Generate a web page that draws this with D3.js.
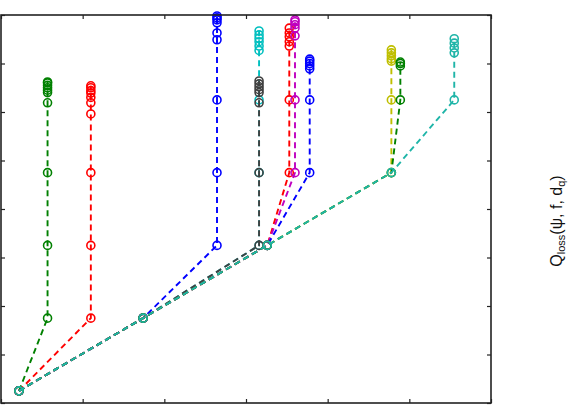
<!DOCTYPE html>
<html>
<head>
<meta charset="utf-8">
<script src="https://cdn.jsdelivr.net/npm/d3@7"></script>
<style>
  body { margin: 0; background: #fff; }
  svg { display: block; }
  .ylab { font-family: "Liberation Sans", Arial, sans-serif; font-size: 16px; fill: #111; }
</style>
</head>
<body>
<svg id="chart" width="573" height="410"></svg>
<script>
// x/y ticks (no labels visible in the reference, only tick marks)
const xTicks = [0, 1, 2, 3, 4, 5, 6];
const yTicks = [0, 1, 2, 3, 4, 5, 6, 7, 8];

// each run is drawn from a common start, one point per iteration
const runNames = ['c', 'k', 'g1', 'r1', 'b1', 'r2', 'm', 'b2', 'y', 'g2', 't'];
const runColors = ['#00bfbf', '#404040', '#008000', '#ff0000', '#0000ff', '#ff0000', '#bf00bf', '#0000ff', '#bfbf00', '#008000', '#1fb5a8'];

const xs_c  = [0.22, 1.74, 3.16, 3.16, 3.16, 3.16, 3.16, 3.16, 3.16, 3.16, 3.16];
const ys_c  = [0.25, 1.75, 3.25, 4.75, 6.25, 7.27, 7.36, 7.45, 7.52, 7.59, 7.67];
const xs_k  = [0.22, 1.74, 3.16, 3.16, 3.16, 3.16, 3.16, 3.16, 3.16, 3.16];
const ys_k  = [0.25, 1.75, 3.25, 4.75, 6.19, 6.40, 6.46, 6.52, 6.58, 6.64];
const xs_g1 = [0.22, 0.57, 0.57, 0.57, 0.57, 0.57, 0.57, 0.57, 0.57, 0.57, 0.57];
const ys_g1 = [0.25, 1.75, 3.25, 4.75, 6.19, 6.40, 6.45, 6.50, 6.55, 6.60, 6.62];
const xs_r1 = [0.22, 1.10, 1.10, 1.10, 1.10, 1.10, 1.10, 1.10, 1.10, 1.10, 1.10];
const ys_r1 = [0.25, 1.75, 3.25, 4.75, 5.96, 6.19, 6.30, 6.39, 6.44, 6.50, 6.54];
const xs_b1 = [0.22, 1.74, 2.645, 2.645, 2.645, 2.645, 2.645, 2.645, 2.645, 2.645, 2.645];
const ys_b1 = [0.25, 1.75, 3.25, 4.75, 6.25, 7.49, 7.63, 7.84, 7.90, 7.94, 7.98];
const xs_r2 = [0.22, 1.74, 3.26, 3.53, 3.53, 3.53, 3.53, 3.53, 3.53, 3.53];
const ys_r2 = [0.25, 1.75, 3.25, 4.75, 6.25, 7.36, 7.45, 7.55, 7.63, 7.73];
const xs_m  = [0.22, 1.74, 3.26, 3.60, 3.60, 3.60, 3.60, 3.60, 3.60, 3.60];
const ys_m  = [0.25, 1.75, 3.25, 4.75, 6.25, 7.57, 7.73, 7.80, 7.86, 7.90];
const xs_b2 = [0.22, 1.74, 3.26, 3.78, 3.78, 3.78, 3.78, 3.78, 3.78, 3.78];
const ys_b2 = [0.25, 1.75, 3.25, 4.75, 6.25, 6.89, 6.95, 7.00, 7.05, 7.09];
const xs_y  = [0.22, 1.74, 3.26, 4.78, 4.78, 4.78, 4.78, 4.78, 4.78, 4.78];
const ys_y  = [0.25, 1.75, 3.25, 4.75, 6.25, 7.05, 7.10, 7.16, 7.22, 7.28];
const xs_g2 = [0.22, 1.74, 3.26, 4.78, 4.89, 4.89, 4.89, 4.89];
const ys_g2 = [0.25, 1.75, 3.25, 4.75, 6.25, 6.95, 7.00, 7.03];
const xs_t  = [0.22, 1.74, 3.26, 4.78, 5.55, 5.55, 5.55, 5.55, 5.55];
const ys_t  = [0.25, 1.75, 3.25, 4.75, 6.25, 7.22, 7.32, 7.42, 7.51];

const runX = [xs_c, xs_k, xs_g1, xs_r1, xs_b1, xs_r2, xs_m, xs_b2, xs_y, xs_g2, xs_t];
const runY = [ys_c, ys_k, ys_g1, ys_r1, ys_b1, ys_r2, ys_m, ys_b2, ys_y, ys_g2, ys_t];

const svg = d3.select('#chart');
const box = { left: 1, right: 491, top: 15, bottom: 403 };

const x = d3.scaleLinear().domain([0, 6]).range([box.left, box.right]);
const y = d3.scaleLinear().domain([0, 8]).range([box.bottom, box.top]);

const runs = runNames.map((name, i) => ({
  name,
  color: runColors[i],
  pts: runX[i].map((v, j) => [v, runY[i][j]]),
}));

const line = d3.line().x(d => x(d[0])).y(d => y(d[1]));

const g = svg.append('g');
runs.forEach((r) => {
  const rg = g.append('g').attr('class', `run-${r.name}`);
  rg.append('path')
    .attr('d', line(r.pts))
    .attr('fill', 'none')
    .attr('stroke', r.color)
    .attr('stroke-width', 1.9)
    .attr('stroke-dasharray', '6,4');
  rg.selectAll('circle')
    .data(r.pts)
    .enter()
    .append('circle')
    .attr('cx', d => x(d[0]))
    .attr('cy', d => y(d[1]))
    .attr('r', 4)
    .attr('fill', 'none')
    .attr('stroke', r.color)
    .attr('stroke-width', 1.6);
});

// frame with inward ticks on all four sides
const tickLen = 4;
const axisStyle = sel => sel.call(s => s.select('.domain').remove())
  .call(s => s.selectAll('line').attr('stroke', '#222').attr('stroke-width', 1.2))
  .call(s => s.selectAll('text').remove());

svg.append('g').attr('transform', `translate(0,${box.bottom})`)
  .call(d3.axisBottom(x).tickValues(xTicks).tickSize(-tickLen)).call(axisStyle);
svg.append('g').attr('transform', `translate(0,${box.top})`)
  .call(d3.axisTop(x).tickValues(xTicks).tickSize(-tickLen)).call(axisStyle);
svg.append('g').attr('transform', `translate(${box.left},0)`)
  .call(d3.axisLeft(y).tickValues(yTicks).tickSize(-tickLen)).call(axisStyle);
svg.append('g').attr('transform', `translate(${box.right},0)`)
  .call(d3.axisRight(y).tickValues(yTicks).tickSize(-tickLen)).call(axisStyle);

svg.append('rect')
  .attr('x', box.left).attr('y', box.top)
  .attr('width', box.right - box.left).attr('height', box.bottom - box.top)
  .attr('fill', 'none').attr('stroke', '#222').attr('stroke-width', 1.6);

// y label on the right, reading bottom to top
const lab = svg.append('text')
  .attr('class', 'ylab')
  .attr('transform', 'translate(562,221) rotate(-90)')
  .attr('text-anchor', 'middle');
lab.append('tspan').text('Q');
lab.append('tspan').attr('font-size', '11px').attr('dy', 3).text('loss');
lab.append('tspan').attr('dy', -3).text('(ψ, f, d');
lab.append('tspan').attr('font-size', '11px').attr('dy', 3).text('q');
lab.append('tspan').attr('dy', -3).text(')');
</script>
</body>
</html>
